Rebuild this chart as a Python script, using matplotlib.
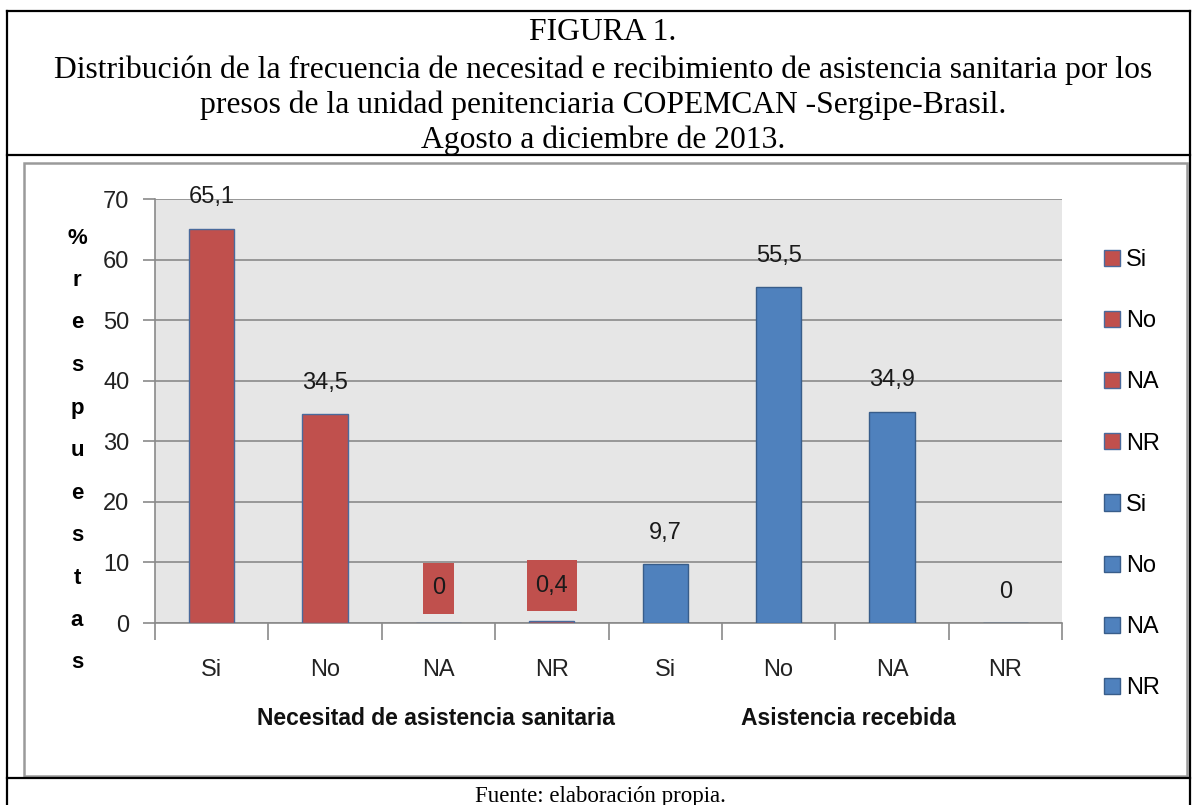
import matplotlib
matplotlib.use("Agg")
import matplotlib.pyplot as plt
from matplotlib.patches import Patch, Rectangle
from matplotlib.lines import Line2D
from matplotlib.path import Path

# ---- data ----
categories = ["Si", "No", "NA", "NR", "Si", "No", "NA", "NR"]
necesitad = [65.1, 34.5, 0, 0.4]
recibida = [9.7, 55.5, 34.9, 0]
value_labels = ["65,1", "34,5", "0", "0,4", "9,7", "55,5", "34,9", "0"]
groups = ["Necesitad de asistencia sanitaria", "Asistencia recebida"]
yticks = [0, 10, 20, 30, 40, 50, 60, 70]

RED = "#C0504D"
BLUE = "#4F81BD"
SANS = ["Liberation Sans", "DejaVu Sans"]
SERIF = ["Liberation Serif", "DejaVu Serif"]

W, H = 1196, 805
fig = plt.figure(figsize=(W / 100, H / 100), dpi=100)
fig.patch.set_facecolor("white")


def fx(px):
    return px / W


def fy(py):
    return 1 - py / H


def label_box(x0, y0, width, height, mutation_size):
    """Rectangular label box, taller than it is padded sideways."""
    px = 0.36 * mutation_size
    py = 0.62 * mutation_size
    xa, xb = x0 - px, x0 + width + px
    ya, yb = y0 - py, y0 + height + py
    return Path([(xa, ya), (xb, ya), (xb, yb), (xa, yb), (xa, ya)],
                [Path.MOVETO, Path.LINETO, Path.LINETO, Path.LINETO, Path.CLOSEPOLY])


# ---- table frame around the figure ----
for (x0, y0, x1, y1) in [(7, 11, 1190, 11), (7, 155, 1190, 155), (7, 778, 1190, 778),
                         (7, 11, 7, 805), (1190, 11, 1190, 805)]:
    fig.add_artist(Line2D([fx(x0), fx(x1)], [fy(y0), fy(y1)], color="black", lw=1.6))

# chart frame
fig.add_artist(Rectangle((fx(24), fy(776)), fx(1187) - fx(24), fy(163) - fy(776),
                         fill=False, edgecolor="#9A9A9A", lw=1.8))

# ---- title ----
title_lines = [
    "FIGURA 1.",
    "Distribución de la frecuencia de necesitad e recibimiento de asistencia sanitaria por los",
    "presos de la unidad penitenciaria COPEMCAN -Sergipe-Brasil.",
    "Agosto a diciembre de 2013.",
]
for txt, yb in zip(title_lines, [40, 78, 113, 148]):
    fig.text(fx(603), fy(yb), txt, ha="center", va="baseline", family=SERIF, fontsize=22.8)
fig.text(fx(600), fy(802), "Fuente: elaboración propia.", ha="center", va="baseline",
         family=SERIF, fontsize=16.5)

# ---- axes ----
ax = fig.add_axes([fx(155), fy(623), fx(1062) - fx(155), fy(199) - fy(623)])
ax.set_facecolor("#E6E6E6")
values = necesitad + recibida
colors = [RED] * len(necesitad) + [BLUE] * len(recibida)
edges = ["#4A6A9C"] * len(necesitad) + ["#385D8A"] * len(recibida)
x = list(range(len(categories)))
ax.bar(x, values, width=0.4, color=colors, edgecolor=edges, linewidth=1.0, zorder=3)

ax.set_xlim(-0.5, len(categories) - 0.5)
ax.set_ylim(0, 70)
ax.set_yticks(yticks)
ax.set_yticklabels([str(v) for v in yticks], family=SANS, fontsize=17, color="#222222")
ax.yaxis.grid(True, color="#8A8A8A", lw=1.2, zorder=1)
ax.set_axisbelow(True)
ax.tick_params(axis="y", length=9, width=1.2, color="#8A8A8A", pad=9.5)

ax.set_xticks(x)
ax.set_xticklabels(categories, family=SANS, fontsize=17, color="#222222")
ax.tick_params(axis="x", which="major", length=0, pad=26)
ax.set_xticks([i - 0.5 for i in range(len(categories) + 1)], minor=True)
ax.tick_params(axis="x", which="minor", length=12, width=1.2, color="#8A8A8A")

for s in ["top", "right"]:
    ax.spines[s].set_visible(False)
for s in ["left", "bottom"]:
    ax.spines[s].set_color("#8A8A8A")
    ax.spines[s].set_linewidth(1.2)

# value labels
for i, (v, lab) in enumerate(zip(values, value_labels)):
    boxed = i in (2, 3)
    kw = {}
    if boxed:
        kw["bbox"] = dict(boxstyle=label_box, facecolor=RED, edgecolor="none")
    ax.annotate(lab, (i, v), xytext=(0, 25 if boxed else 22.5), textcoords="offset points",
                ha="center", va="center", family=SANS, fontsize=17, color="#1A1A1A",
                zorder=5, **kw)

# group labels
for txt, xc in zip(groups, [436, 848]):
    fig.text(fx(xc), fy(718), txt, ha="center", va="center", family=SANS,
             fontsize=16.5, fontweight="bold", color="#111111")

# vertical axis title, one letter per line
ylabel = "%respuestas"
for k, ch in enumerate(ylabel):
    fig.text(fx(77), fy(238 + k * 42.5), ch, ha="center", va="center", family=SANS,
             fontsize=16, fontweight="bold")

# legend
handles = [Patch(facecolor=c, edgecolor=e, lw=1.0) for c, e in zip(colors, edges)]
fig.legend(handles, categories, loc="upper left", bbox_to_anchor=(fx(1104), fy(249)),
           frameon=False, prop={"family": SANS, "size": 17}, handlelength=0.68,
           handleheight=0.68, handletextpad=0.25, labelspacing=1.66, borderaxespad=0,
           borderpad=0)

fig.savefig("out.png", dpi=100)
